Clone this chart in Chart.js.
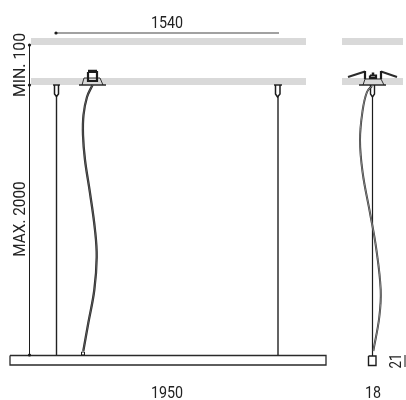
<!DOCTYPE html>
<html>
<head>
<meta charset="utf-8">
<style>
  html, body { margin: 0; padding: 0; background: #fff; }
  #chart { display: block; }
</style>
<script src="https://cdn.jsdelivr.net/npm/chart.js@4/dist/chart.umd.js"></script>
</head>
<body>
<canvas id="chart" width="406" height="400"></canvas>
<script>
// Drawing units: the sheet is 406 wide and 400 high, y runs downwards

// Ceiling / mounting bands
const bandTopFront = [[31, 41.5], [306, 41.5]];
const bandLowFront = [[31, 81.5], [306, 81.5]];
const bandTopSide = [[342, 41.5], [403, 41.5]];
const bandLowSide = [[342, 81.5], [403, 81.5]];

// Dimension lines
const dimWidth = [[56, 33], [279, 33]];
const dimHeight = [[29.5, 45], [29.5, 355]];
const dimBody = [[405, 355], [405, 367]];
const dimDots = [[56, 33], [29.5, 45], [29.5, 85], [29.5, 355]];

// Luminaire body, front and side
const bodyFront = [[10, 355.5], [326, 355.5], [326, 365], [10, 365], [10, 355.5]];
const bodySide = [[368.5, 356], [376, 356], [376, 365.5], [368.5, 365.5], [368.5, 356]];

// Suspension wires with their caps
const wireLeft = [[56.5, 96], [56.5, 355]];
const wireRight = [[278, 96], [278, 355]];
const wireSide = [[372.5, 96], [372.5, 356]];
const capLeft = [[54.5, 85], [54.5, 94], [56.5, 96.5], [58.5, 94], [58.5, 85]];
const capRight = [[275.5, 85], [275.5, 94], [277.5, 97], [280, 94], [280, 85]];
const capSide = [[370.5, 85], [370.5, 94], [372.5, 97], [374.5, 94], [374.5, 85]];
const capTopLeft = [[53, 85], [60, 85]];
const capTopRight = [[274, 85], [282, 85]];

// Ceiling rose, front view
const roseBaseFront = [[79, 85], [106, 85]];
const roseShellFront = [[82, 85], [84, 78], [100, 78], [103, 85]];
const roseBoxFront = [[88, 72], [97, 72], [97, 81], [88, 81], [88, 72]];
const roseCapFront = [[88, 71], [97, 71]];

// Ceiling rose, side view
const roseBaseSide = [[359, 85], [386, 85]];
const roseShellSide = [[363, 85], [365, 79], [381, 79], [384, 85]];
const roseBoxSide = [[370, 75.5], [376, 75.5], [376, 78], [370, 78], [370, 75.5]];
const rosePinSide = [[373, 72.5], [373, 75]];
const wingLeft = [[348, 77], [365, 71.5]];
const wingRight = [[397, 77], [381, 71.5]];
const postLeft = [[365, 71], [365, 79]];
const postRight = [[381, 71], [381, 79]];

// Power cords
const cordFront = [[92.5, 85], [87, 97], [83.5, 115], [83, 135], [85, 160], [90, 193], [95, 230], [96.7, 257], [94.3, 290], [88.3, 323], [83.3, 351]];
const cordSide = [[372, 86], [367, 92], [362.7, 110], [360, 140], [362.7, 173], [370, 213], [376, 247], [380.7, 290], [379.3, 317], [373.3, 351]];
const cordEnd = [[81.5, 352], [84.5, 352], [84.5, 355], [81.5, 355], [81.5, 352]];

// Text labels
const labelTexts = ['1540', 'MIN. 100', 'MAX. 2000', '1950', '18', '21'];
const labelX = [167, 21, 21, 167, 373, 397];
const labelY = [23.5, 65, 219, 393.5, 393.5, 361];
const labelAngles = [0, -90, -90, 0, 0, -90];
const labelStretch = [0.84, 0.93, 0.9, 0.84, 0.84, 0.78];

const INK = '#1c1c1c';
const GREY = '#d9d9d9';

function path(data, color, width, extra) {
  return Object.assign({
    data,
    showLine: true,
    borderColor: color,
    backgroundColor: color,
    borderWidth: width,
    pointRadius: 0,
    tension: 0,
    fill: false
  }, extra || {});
}

const curve = { tension: 0.4 };

// Chart.js paints the first dataset last, so the list runs from top layer to bottom
const datasets = [
  path(dimDots, INK, 0, { showLine: false, pointRadius: 1.6, pointBackgroundColor: INK }),
  path(cordEnd, INK, 1),
  path(cordFront, '#999999', 0.4, curve),
  path(cordFront, '#2b2b2b', 2.3, curve),
  path(cordSide, '#bbbbbb', 0.6, curve),
  path(cordSide, '#333333', 2, curve),
  path(capTopLeft, INK, 1.4),
  path(capTopRight, INK, 1.4),
  path(capLeft, INK, 1.5),
  path(capRight, INK, 1.5),
  path(capSide, INK, 1.4),
  path(wireLeft, '#222222', 1.4),
  path(wireRight, '#222222', 1.4),
  path(wireSide, INK, 1.2),
  path(roseBaseFront, INK, 1.4),
  path(roseShellFront, INK, 0.9),
  path(roseCapFront, INK, 2.5),
  path(roseBoxFront, INK, 2.2),
  path(roseBaseSide, INK, 1.4),
  path(roseShellSide, INK, 0.9),
  path(rosePinSide, INK, 2.5),
  path(roseBoxSide, INK, 2.2),
  path(postLeft, INK, 2.2),
  path(postRight, INK, 2.2),
  path(wingLeft, '#2b2b2b', 2),
  path(wingRight, '#2b2b2b', 2),
  path(bodyFront, '#2a2a2a', 1.3),
  path(bodySide, INK, 1.4),
  path(dimWidth, '#444444', 1.2),
  path(dimHeight, INK, 1),
  path(dimBody, '#777777', 1),
  path(bandTopFront, GREY, 7),
  path(bandLowFront, GREY, 7),
  path(bandTopSide, GREY, 7),
  path(bandLowSide, GREY, 7)
];

// Text goes through the same scales as the marks
const labelPlugin = {
  id: 'drawingLabels',
  afterDatasetsDraw(chart) {
    const { ctx, scales } = chart;
    ctx.save();
    ctx.fillStyle = '#222222';
    ctx.font = '17px Roboto';
    ctx.textAlign = 'center';
    ctx.textBaseline = 'middle';
    labelTexts.forEach((text, i) => {
      ctx.save();
      ctx.translate(scales.x.getPixelForValue(labelX[i]), scales.y.getPixelForValue(labelY[i]));
      ctx.rotate(labelAngles[i] * Math.PI / 180);
      ctx.scale(labelStretch[i], 1);
      ctx.fillText(text, 0, 0);
      ctx.restore();
    });
    ctx.restore();
  }
};

new Chart(document.getElementById('chart').getContext('2d'), {
  type: 'scatter',
  data: { datasets },
  plugins: [labelPlugin],
  options: {
    responsive: false,
    animation: false,
    events: [],
    layout: { padding: 0, autoPadding: false },
    plugins: { legend: { display: false }, tooltip: { enabled: false } },
    scales: {
      x: { type: 'linear', display: false, min: 0, max: 406 },
      y: { type: 'linear', display: false, min: 0, max: 400, reverse: true }
    }
  }
});
</script>
</body>
</html>
